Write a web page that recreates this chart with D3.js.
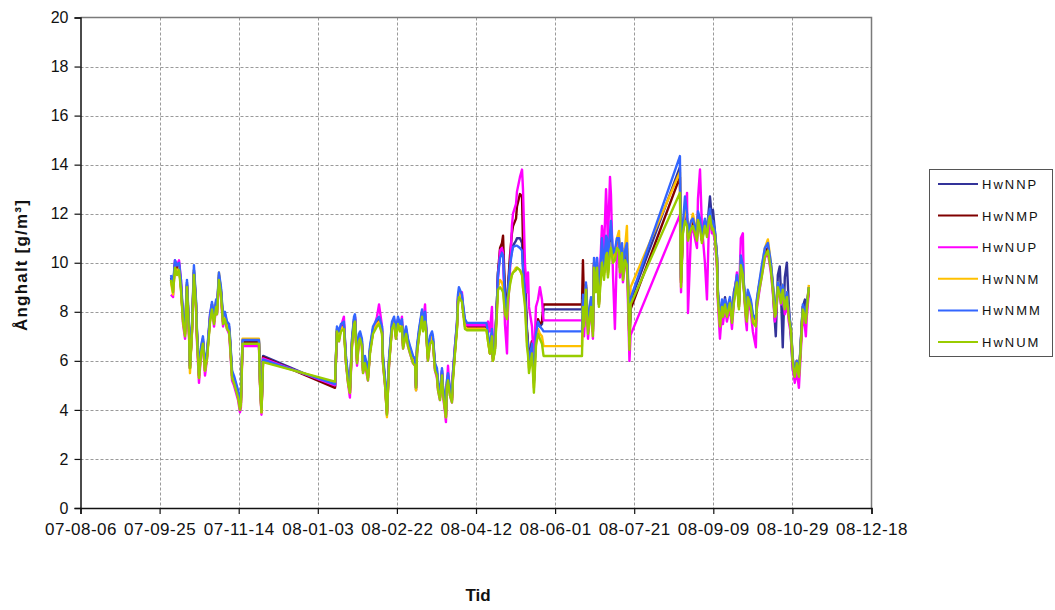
<!DOCTYPE html>
<html><head><meta charset="utf-8">
<script src="https://cdn.jsdelivr.net/npm/d3@7"></script>
<style>
body{margin:0;background:#fff}
svg{display:block}
text{font-family:Arial,"Liberation Sans",sans-serif;fill:#111}
</style>
</head><body><svg id="chart" width="1055" height="610"></svg>
<script>
// ---------- data ----------
const startDate = "2007-08-06";
const xTickDates = ["2007-08-06","2007-09-25","2007-11-14","2008-01-03","2008-02-22","2008-04-12","2008-06-01","2008-07-21","2008-09-09","2008-10-29","2008-12-18"];
const yTicks = [0,2,4,6,8,10,12,14,16,18,20];
const seriesNames = ["HwNNP","HwNMP","HwNUP","HwNNM","HwNMM","HwNUM"];
const seriesColors = ["#333399","#800000","#ff00ff","#ffc000","#3366ff","#99cc00"];
const yTitle = "Ånghalt [g/m³]";
const xTitle = "Tid";

// days since startDate
const days = [
57.2,58.5,59.7,61.0,62.3,63.5,64.8,66.1,67.3,68.6,69.2,70.5,71.7,73.0,73.6,74.9,76.2,77.4,78.7,80.0,81.9,83.1,84.4,85.7,86.3,87.5,88.8,90.1,91.3,92.6,93.9,94.5,95.8,97.0,98.3,99.6,100.8,101.4,102.4,112.8,113.5,114.4,115.4,160.9,
162.1,163.4,164.6,166.5,167.8,169.1,170.3,171.6,172.9,173.5,174.8,176.0,176.7,177.9,178.6,179.8,181.1,181.7,183.0,184.9,187.4,188.7,190.6,191.2,192.5,193.7,195.0,196.9,198.2,199.4,200.7,202.0,203.2,203.9,205.8,207.0,208.3,210.2,211.5,212.1,212.7,214.0,215.9,216.5,217.8,218.4,219.6,220.9,222.2,222.8,224.1,225.3,226.0,227.2,228.5,229.1,230.4,231.0,231.6,232.3,233.5,234.8,235.4,236.7,238.0,238.6,239.2,241.1,241.8,243.0,244.3,256.6,
257.6,258.8,260.1,260.7,262.0,263.3,263.9,265.2,266.4,267.1,268.3,269.6,270.2,271.5,272.7,273.4,275.3,275.9,277.8,279.1,279.7,281.0,282.2,282.9,283.5,285.4,286.6,287.9,289.2,290.4,291.7,292.7,317.0,
317.6,318.3,319.5,320.8,322.7,323.9,324.6,325.8,326.5,327.7,329.6,330.9,332.2,332.8,333.4,334.7,335.3,336.6,337.8,339.1,340.4,341.0,342.3,342.9,344.2,345.4,346.4,347.0,347.7,378.9,
379.6,380.8,382.1,383.4,384.0,385.9,387.1,389.7,390.3,391.6,392.8,394.7,396.0,397.2,397.9,399.1,399.8,401.0,402.3,402.9,404.2,405.5,406.1,407.4,408.6,410.5,411.8,413.0,414.9,416.2,417.4,418.7,419.3,420.6,421.2,421.8,423.7,425.0,426.9,427.5,428.8,430.7,432.6,434.5,436.4,437.6,438.9,439.5,440.8,442.0,442.7,443.9,445.2,446.5,447.7,449.0,450.3,451.5,452.8,454.1,454.7,456.0,456.6,457.9,458.5,459.1,460.4
];

const hwNNP = [
9.4,9.0,10.0,9.7,9.9,9.1,7.8,7.2,9.2,7.3,5.7,7.4,9.7,8.4,7.2,5.4,6.5,6.9,5.7,6.3,7.8,8.3,7.7,8.4,8.1,9.5,8.9,7.7,7.9,7.5,7.4,6.9,5.5,5.3,5.0,4.7,4.2,4.4,6.8,6.8,5.2,4.0,6.2,4.95,
7.3,7.0,7.4,7.5,6.1,5.3,4.8,6.8,7.7,7.8,6.1,7.0,7.1,6.8,5.7,6.1,5.7,5.4,6.5,7.3,7.6,7.7,7.3,6.1,5.2,3.9,6.0,7.5,7.7,7.1,7.7,7.4,7.6,6.7,7.3,6.8,6.5,6.1,6.0,4.9,6.5,7.2,8.0,7.4,7.9,7.4,6.2,6.9,7.1,6.9,5.8,5.6,5.0,4.6,5.6,4.9,4.2,3.8,5.1,5.4,4.8,4.5,5.4,6.5,7.5,8.5,8.8,8.6,8.2,7.6,7.45,7.45,
7.0,6.4,7.2,6.1,6.6,8.5,9.6,10.3,10.5,10.5,8.6,8.0,8.9,10.0,10.5,10.7,10.9,11.0,11.0,10.8,9.9,9.0,7.2,6.6,6.0,6.8,5.2,7.2,7.6,7.4,7.5,8.1,8.1,
8.8,7.8,9.0,7.4,8.5,7.3,10.0,9.0,10.0,8.4,10.6,9.6,10.8,10.6,9.6,10.8,11.0,10.2,10.3,10.8,10.8,9.8,10.6,9.5,10.3,10.4,8.5,6.8,8.45,13.9,
9.3,11.4,12.2,11.8,11.1,11.6,11.7,11.1,11.9,11.6,11.0,11.7,11.3,12.2,12.7,11.8,12.15,11.3,10.3,8.8,7.6,8.4,8.0,8.6,8.0,8.5,7.8,8.8,9.4,8.3,10.1,9.7,9.1,8.0,7.8,8.8,8.4,7.8,7.6,8.4,9.0,9.7,10.4,10.6,9.9,9.0,7.6,7.0,9.5,9.85,8.9,6.55,9.4,10.0,8.3,7.0,5.6,5.5,6.0,5.5,6.0,7.6,8.2,8.5,8.1,8.3,8.8
];

const hwNMP = [
9.3,8.9,9.9,9.6,9.9,9.0,7.7,7.1,9.1,7.2,5.7,7.3,9.6,8.3,7.1,5.4,6.4,6.8,5.6,6.2,7.7,8.2,7.6,8.3,8.0,9.4,8.8,7.6,7.8,7.4,7.3,6.8,5.4,5.2,4.9,4.6,4.1,4.3,6.75,6.75,5.1,3.9,6.15,4.9,
7.2,6.9,7.3,7.4,6.0,5.2,4.7,6.7,7.6,7.7,6.0,6.9,7.0,6.7,5.6,6.0,5.6,5.3,6.4,7.2,7.5,7.6,7.2,6.0,5.1,3.85,5.9,7.4,7.6,7.0,7.6,7.3,7.5,6.6,7.2,6.7,6.4,6.0,5.9,4.8,6.4,7.1,7.9,7.3,7.8,7.3,6.1,6.8,7.0,6.8,5.7,5.5,4.9,4.5,5.5,4.8,4.1,3.7,5.0,5.3,4.7,4.4,5.3,6.4,7.4,8.4,8.7,8.5,8.1,7.5,7.4,7.4,
6.9,6.3,7.1,6.0,6.5,8.5,9.6,10.6,10.8,11.1,8.8,8.2,9.0,10.3,11.2,11.5,11.8,12.3,12.8,12.7,10.8,9.3,7.3,6.7,6.0,6.8,5.2,7.2,7.7,7.5,7.6,8.3,8.3,
10.1,8.3,9.1,7.4,8.4,7.2,9.9,8.9,9.9,8.3,10.7,9.6,10.9,10.8,9.7,10.9,11.1,10.3,10.3,10.9,10.9,9.8,10.6,9.5,10.4,10.6,8.4,6.7,8.1,13.5,
9.2,11.3,12.0,11.7,11.0,11.5,11.6,11.0,11.9,11.6,10.9,11.6,11.2,11.9,12.1,11.5,11.6,11.2,10.2,8.7,7.5,8.3,7.9,8.4,7.9,8.4,7.7,8.5,9.3,8.2,10.1,9.7,9.0,7.9,7.7,8.7,8.3,7.7,7.5,8.3,8.9,9.6,10.3,10.6,9.8,9.1,7.9,8.0,9.1,8.9,8.5,9.0,8.2,8.7,7.9,7.3,6.0,5.5,6.0,5.4,6.0,7.5,8.2,7.9,7.7,8.2,9.0
];

const hwNUP = [
8.7,8.6,10.1,9.9,10.1,9.3,7.5,6.9,9.0,7.0,5.8,7.2,9.5,8.2,6.8,5.1,6.3,6.7,5.4,6.1,7.9,8.3,7.4,8.2,7.9,9.3,8.6,7.4,7.7,7.3,7.1,6.6,5.2,5.0,4.7,4.4,3.9,4.1,6.6,6.6,5.0,3.8,6.1,5.0,
7.2,6.8,7.4,7.8,5.9,5.1,4.5,6.6,7.6,7.8,5.8,6.8,7.0,6.6,5.5,5.9,5.4,5.2,6.4,7.2,7.8,8.3,7.4,5.9,5.0,3.8,5.8,7.4,7.6,6.9,7.7,7.3,7.8,6.5,7.2,6.6,6.3,5.9,5.8,4.9,6.3,7.1,8.0,7.5,8.3,7.4,6.0,6.7,6.9,6.7,5.6,5.3,4.8,4.4,5.6,4.6,3.9,3.5,5.0,5.8,4.6,4.3,5.5,6.6,7.5,8.6,8.8,8.8,8.2,7.5,7.45,7.45,
7.6,7.2,8.2,6.2,6.9,8.3,9.4,10.5,10.6,10.4,7.5,6.3,8.0,9.7,11.5,12.0,12.4,12.9,13.5,13.8,13.0,9.9,8.8,9.6,8.2,7.4,5.8,8.2,8.5,9.0,8.5,7.65,7.65,
7.4,7.0,8.5,6.9,8.3,6.9,10.0,8.9,10.2,8.6,11.5,10.5,13.0,12.0,10.8,13.5,12.8,9.5,7.3,10.5,10.8,9.4,10.2,9.2,9.9,10.0,7.5,6.0,7.05,11.95,
8.8,11.3,12.0,12.85,7.95,11.2,11.4,10.6,12.6,13.8,11.5,10.0,8.5,11.5,11.8,11.2,11.3,10.9,9.8,8.4,6.9,8.0,7.5,8.2,7.6,8.2,7.3,8.4,9.6,8.5,11.0,11.2,9.0,7.6,7.25,8.5,8.0,7.2,6.55,8.1,8.7,9.5,10.2,10.4,9.6,8.8,7.6,7.8,8.9,8.7,8.3,8.8,7.9,8.4,7.6,7.1,5.7,5.1,5.6,4.9,5.6,7.2,7.9,7.4,7.0,7.8,8.8
];

const hwNNM = [
9.2,8.7,9.8,9.6,9.8,9.0,7.6,7.1,9.1,7.2,5.5,7.3,9.7,8.3,7.1,5.3,6.4,6.8,5.6,6.2,7.7,8.3,7.6,8.4,8.0,9.6,8.8,7.6,7.8,7.4,7.3,6.8,5.4,5.2,4.9,4.6,4.1,4.3,6.9,6.9,5.1,3.9,6.0,5.1,
7.3,6.9,7.3,7.4,6.0,5.2,4.7,6.7,7.6,7.7,6.0,6.9,7.0,6.7,5.6,6.0,5.6,5.3,6.4,7.2,7.5,7.6,7.2,6.0,5.1,3.7,5.9,7.4,7.6,7.0,7.6,7.3,7.5,6.6,7.2,6.7,6.4,6.0,5.9,4.8,6.4,7.1,7.9,7.3,7.8,7.3,6.1,6.8,7.0,6.8,5.7,5.5,4.9,4.5,5.5,4.8,4.1,3.7,5.0,5.3,4.7,4.4,5.3,6.4,7.4,8.4,8.8,8.5,8.1,7.4,7.3,7.3,
6.8,6.3,7.0,6.0,6.5,8.2,9.0,9.3,9.2,9.0,8.1,7.8,8.6,9.2,9.5,9.6,9.8,9.8,9.7,9.5,9.0,8.4,6.8,6.4,5.7,6.5,4.9,6.8,7.3,7.1,7.0,6.6,6.6,
8.5,7.6,9.1,7.3,8.4,7.2,10.0,8.9,10.0,8.3,10.4,9.5,10.6,10.5,9.5,10.6,10.8,10.1,10.2,11.0,11.3,9.8,10.7,9.6,10.6,11.5,8.4,6.7,9.0,13.7,
9.2,11.4,12.3,11.8,11.1,11.6,12.0,11.1,12.0,11.7,11.0,11.7,11.2,11.9,12.0,11.5,11.6,11.2,10.2,8.7,7.5,8.3,7.9,8.4,7.9,8.5,7.7,8.5,9.4,8.2,10.2,9.8,9.1,7.9,7.7,8.7,8.3,7.7,7.5,8.4,9.0,9.8,10.6,10.95,10.0,9.1,8.0,8.1,9.2,8.9,8.5,9.1,8.2,8.8,7.9,7.4,6.0,5.5,6.0,5.4,6.0,7.5,8.2,7.9,7.7,8.2,9.1
];

const hwNMM = [
9.5,9.1,10.1,9.9,10.0,9.3,7.9,7.3,9.3,7.4,5.8,7.5,9.9,8.5,7.3,5.5,6.6,7.0,5.8,6.4,7.9,8.4,7.8,8.5,8.2,9.6,9.0,7.8,8.0,7.6,7.5,7.0,5.6,5.4,5.1,4.8,4.3,4.5,6.85,6.85,5.3,4.1,6.05,5.05,
7.4,7.2,7.5,7.6,6.2,5.4,4.9,6.9,7.8,7.9,6.2,7.1,7.2,6.9,5.8,6.2,5.8,5.5,6.6,7.4,7.7,7.8,7.4,6.2,5.3,4.0,6.1,7.6,7.8,7.2,7.8,7.5,7.7,6.8,7.4,6.9,6.6,6.2,6.1,5.0,6.6,7.3,8.1,7.5,8.0,7.5,6.3,7.0,7.2,7.0,5.9,5.7,5.1,4.7,5.7,5.0,4.3,3.9,5.2,5.5,4.9,4.6,5.5,6.6,7.6,8.7,9.0,8.7,8.3,7.7,7.55,7.55,
7.1,6.5,7.3,6.2,6.7,8.5,9.5,10.2,10.4,10.3,8.5,8.0,8.9,9.9,10.4,10.65,10.7,10.7,10.6,10.5,9.7,8.8,7.1,6.6,5.9,6.7,5.1,7.1,7.6,7.4,7.3,7.2,7.2,
8.7,7.8,9.2,7.5,8.6,7.4,10.2,9.1,10.2,8.5,11.0,9.8,11.1,11.0,9.8,11.2,11.7,10.4,10.5,11.0,11.0,10.0,10.8,9.7,10.5,10.8,8.6,6.9,8.55,14.35,
9.4,11.6,12.7,12.0,11.2,11.7,11.8,11.2,12.1,11.8,11.1,11.8,11.3,12.0,12.2,11.6,11.7,11.3,10.3,8.9,7.7,8.5,8.1,8.5,8.1,8.6,7.8,8.6,9.5,8.4,10.3,9.9,9.2,8.1,7.9,8.9,8.5,7.9,7.7,8.5,9.1,9.9,10.6,10.8,10.0,9.2,8.0,8.1,9.2,9.0,8.6,9.1,8.3,8.8,8.0,7.4,6.1,5.5,6.0,5.5,6.1,7.6,8.3,8.0,7.7,8.3,9.0
];

const hwNUM = [
9.3,8.8,9.8,9.5,9.7,8.9,7.6,7.0,9.0,7.1,5.7,7.2,9.5,8.2,7.0,5.3,6.3,6.7,5.6,6.1,7.6,8.1,7.5,8.2,7.9,9.3,8.7,7.5,7.7,7.3,7.2,6.7,5.3,5.1,4.8,4.5,4.0,4.2,6.7,6.7,5.0,3.9,5.95,5.15,
7.2,6.8,7.2,7.3,5.9,5.1,4.7,6.6,7.5,7.6,5.9,6.8,6.9,6.6,5.5,5.9,5.5,5.2,6.3,7.1,7.4,7.5,7.1,5.9,5.0,3.8,5.8,7.3,7.5,6.9,7.5,7.2,7.4,6.5,7.1,6.6,6.3,5.9,5.8,4.9,6.3,7.0,7.8,7.2,7.6,7.2,6.0,6.7,6.8,6.7,5.6,5.4,4.8,4.4,5.4,4.7,4.0,3.7,4.9,5.2,4.6,4.3,5.2,6.3,7.3,8.3,8.6,8.4,8.0,7.3,7.25,7.25,
6.8,6.3,7.0,6.0,6.4,8.1,8.9,9.0,8.9,8.8,7.9,7.7,8.5,9.1,9.5,9.6,9.7,9.8,9.7,9.5,9.0,8.2,6.6,6.2,5.5,6.3,4.7,6.6,7.1,6.9,6.7,6.2,6.2,
8.2,7.4,8.9,7.1,8.2,7.0,9.8,8.8,9.8,8.2,10.0,9.3,10.3,10.4,9.4,10.4,10.6,10.0,10.1,10.6,10.5,9.6,10.4,9.3,10.1,9.9,8.2,6.45,8.3,12.85,
9.0,11.2,11.7,11.5,10.9,11.35,11.5,10.9,11.75,11.4,10.8,11.5,11.05,11.75,11.9,11.35,11.4,11.05,10.0,8.6,7.4,8.2,7.8,8.3,7.8,8.35,7.55,8.35,9.2,8.1,9.9,9.5,8.9,7.8,7.6,8.6,8.2,7.55,7.4,8.2,8.8,9.45,10.25,10.5,9.7,8.9,7.8,7.9,9.0,8.7,8.35,8.9,8.1,8.6,7.8,7.25,5.9,5.35,5.9,5.35,5.9,7.4,8.1,7.8,7.55,8.1,9.0
];

const seriesValues = [hwNNP, hwNMP, hwNUP, hwNNM, hwNMM, hwNUM];
seriesValues.forEach((s, i) => {
  if (s.length !== days.length) throw new Error(seriesNames[i] + " length " + s.length + " vs " + days.length);
});

// ---------- chart ----------
const svg = d3.select("#chart");
const plot = {left: 80.5, right: 871.5, top: 17.5, bottom: 508};
const parse = d3.utcParse("%Y-%m-%d");
const t0 = parse(startDate);
const tickDates = xTickDates.map(parse);
const toDate = d => new Date(t0.getTime() + d * 864e5);

const x = d3.scaleUtc().domain([tickDates[0], tickDates[tickDates.length - 1]]).range([plot.left, plot.right]);
const y = d3.scaleLinear().domain([0, 20]).range([plot.bottom, plot.top]);

// grid
const grid = svg.append("g").attr("stroke", "#9a9a9a").attr("stroke-width", 1).attr("stroke-dasharray", "3,2");
grid.selectAll("line.v").data(tickDates.slice(1, -1)).join("line")
  .attr("x1", d => Math.round(x(d)) + 0.5).attr("x2", d => Math.round(x(d)) + 0.5)
  .attr("y1", plot.top).attr("y2", plot.bottom);
grid.selectAll("line.h").data(yTicks.slice(1, -1)).join("line")
  .attr("x1", plot.left).attr("x2", plot.right)
  .attr("y1", d => Math.round(y(d)) + 0.5).attr("y2", d => Math.round(y(d)) + 0.5);

// top / right border
svg.append("path")
  .attr("d", `M${plot.left},${plot.top}H${plot.right}V${plot.bottom}`)
  .attr("fill", "none").attr("stroke", "#7a7a7a").attr("stroke-width", 1.5);

// series
const line = d3.line()
  .x((v, i) => x(toDate(days[i])))
  .y(v => y(v))
  .curve(d3.curveLinear);

svg.append("g").selectAll("path").data(seriesValues).join("path")
  .attr("d", d => line(d))
  .attr("fill", "none")
  .attr("stroke", (d, i) => seriesColors[i])
  .attr("stroke-width", 2.4)
  .attr("stroke-linejoin", "round");

// axes
const yAxis = svg.append("g").attr("transform", `translate(${plot.left},0)`)
  .call(d3.axisLeft(y).tickValues(yTicks).tickFormat(d3.format("d")).tickSize(6).tickPadding(6));
const xAxis = svg.append("g").attr("transform", `translate(0,${plot.bottom})`)
  .call(d3.axisBottom(x).tickValues(tickDates).tickFormat(d3.utcFormat("%y-%m-%d")).tickSizeOuter(6).tickSize(6).tickPadding(5));
[yAxis, xAxis].forEach(a => {
  a.select(".domain").attr("stroke", "#111").attr("stroke-width", 1.5);
  a.selectAll(".tick line").attr("stroke", "#111").attr("stroke-width", 1.2);
});
yAxis.selectAll(".tick text").attr("font-size", 16).attr("fill", "#111");
xAxis.selectAll(".tick text").attr("font-size", 17).attr("letter-spacing", "0.5px").attr("fill", "#111").attr("dy", "0.95em");

// titles
svg.append("text")
  .attr("transform", "translate(27,265) rotate(-90)")
  .attr("text-anchor", "middle")
  .attr("font-size", 17).attr("font-weight", "bold").attr("letter-spacing", "1.2px")
  .text(yTitle);
svg.append("text")
  .attr("x", 478).attr("y", 601)
  .attr("text-anchor", "middle")
  .attr("font-size", 17).attr("font-weight", "bold")
  .text(xTitle);

// legend
const lg = svg.append("g");
lg.append("rect").attr("x", 929.5).attr("y", 169.5).attr("width", 123).attr("height", 187)
  .attr("fill", "#fff").attr("stroke", "#555").attr("stroke-width", 1);
const items = lg.selectAll("g.item").data(seriesNames).join("g")
  .attr("transform", (d, i) => `translate(0,${184 + i * 31.6})`);
items.append("line").attr("x1", 938).attr("x2", 978).attr("y1", 0).attr("y2", 0)
  .attr("stroke", (d, i) => seriesColors[i]).attr("stroke-width", 2);
items.append("text").attr("x", 982).attr("y", 5)
  .attr("font-size", 13).attr("letter-spacing", "2px")
  .text(d => d);
</script>
</body></html>
